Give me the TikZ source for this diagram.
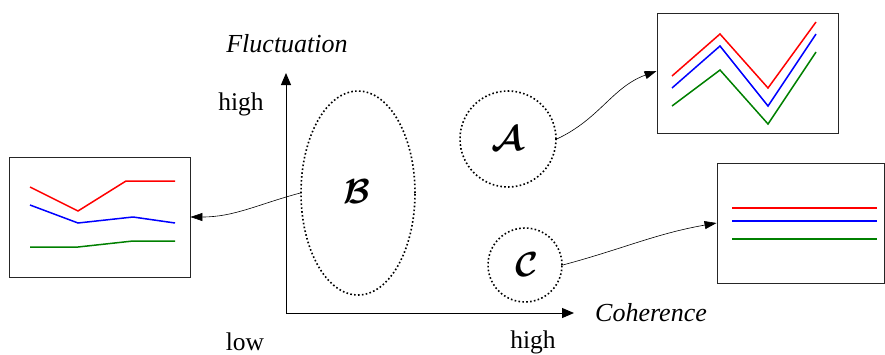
\documentclass[tikz,border=0pt]{standalone}
\usepackage{fontspec}
\setmainfont{Liberation Serif}
\usetikzlibrary{arrows.meta,shapes.geometric}
\begin{document}
\begin{tikzpicture}[x=1pt,y=-1pt,
  lbl/.style={font=\fontsize{25.5}{28}\selectfont, inner sep=0pt},
  ilbl/.style={font=\fontsize{26}{28}\selectfont\itshape, inner sep=0pt},
  region/.style={draw, line width=1.6pt, dash pattern=on 1.6pt off 2.3pt, inner sep=0pt},
  cal/.style={font=\fontsize{24.88}{30}\selectfont\boldmath, inner sep=0pt},
  chart/.style={draw=black!85, line width=0.9pt},
  dline/.style={line width=1.5pt},
  axis/.style={line width=1pt, -{Triangle[length=12pt,width=10pt]}},
  conn/.style={line width=0.6pt, -{Triangle[length=12pt,width=8pt]}}
]
\useasboundingbox (0,0) rectangle (885,354);
% axes
\coordinate (O) at (286,313);
\coordinate (Ytop) at (286,73);
\coordinate (Xend) at (574,313);
\draw[axis] (O) -- (Ytop);
\draw[axis] (O) -- (Xend);
\node[ilbl] (fluct) at (287,44) {Fluctuation};
\node[lbl] (yhigh) at (241,104) {high};
\node[lbl] (low) at (245,342) {low};
\node[lbl] (xhigh) at (533,342) {high};
\node[ilbl] (coh) at (651,313) {Coherence};
% regions
\node[region, ellipse, minimum width=114pt, minimum height=204pt] (B) at (358,193) {};
\node[region, circle, minimum size=96pt] (A) at (508,139) {};
\node[region, circle, minimum size=74pt] (C) at (525,265) {};
\node[cal] (lA) at (508,139) {\scalebox{1.4}{$\mathcal{A}$}};
\node[cal] (lB) at (357,192) {\scalebox{1.4}{$\mathcal{B}$}};
\node[cal] (lC) at (527,265) {\scalebox{1.4}{$\mathcal{C}$}};
% charts
\node[chart, minimum width=181pt, minimum height=120pt, inner sep=0pt] (boxB) at (99.5,217) {};
\draw[dline, red] (30,187) -- (78,211) -- (126,181) -- (175,181);
\draw[dline, blue] (30,205) -- (78,223) -- (133,217) -- (175,223);
\draw[dline, black!50!green] (30,247) -- (78,247) -- (133,241) -- (175,241);
\node[chart, minimum width=181pt, minimum height=120pt, inner sep=0pt] (boxA) at (747.5,73) {};
\draw[dline, red] (672,76) -- (720,34) -- (768,88) -- (816,22);
\draw[dline, blue] (672,88) -- (720,46) -- (768,106) -- (816,34);
\draw[dline, black!50!green] (672,106) -- (720,70) -- (768,124) -- (816,52);
\node[chart, minimum width=167pt, minimum height=120pt, inner sep=0pt] (boxC) at (800.5,223) {};
\draw[dline, red] (732,208) -- (877,208);
\draw[dline, blue] (732,221) -- (877,221);
\draw[dline, black!50!green] (732,239) -- (877,239);
% connectors
\draw[conn] (A.east) to[out=25, in=200] ([yshift=2pt]boxA.west);
\draw[conn] (B.west) to[out=195, in=0] (boxB.east);
\draw[conn] (C.east) to[out=15, in=190] (boxC.west);
\end{tikzpicture}
\end{document}
